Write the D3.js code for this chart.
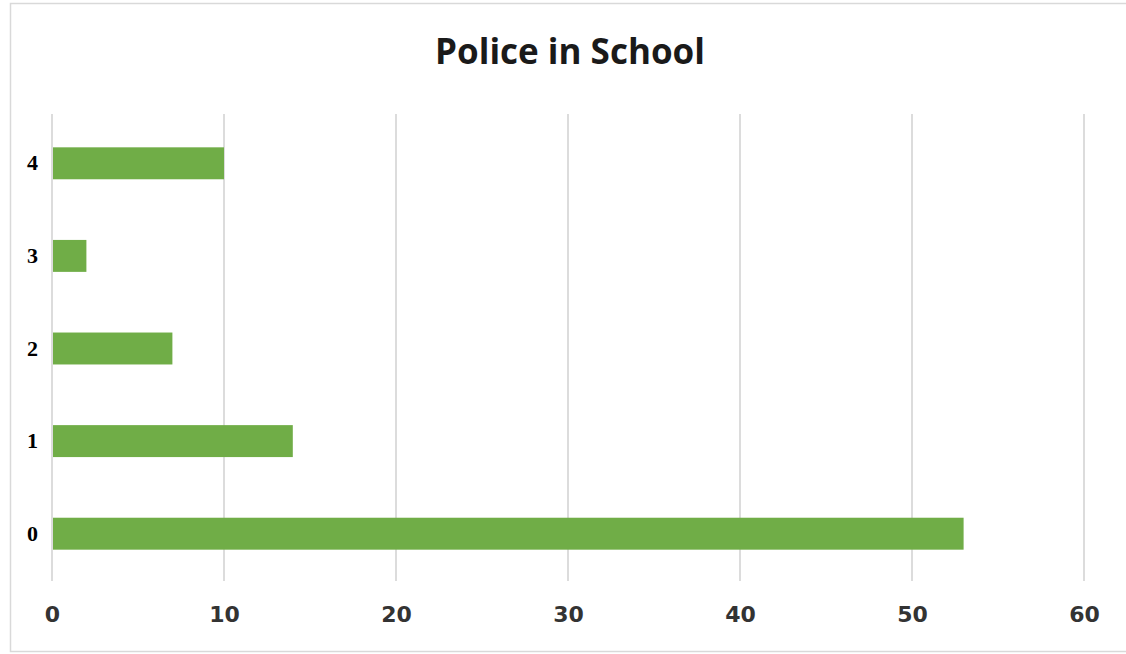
<!DOCTYPE html>
<html>
<head>
<meta charset="utf-8">
<script src="https://cdn.jsdelivr.net/npm/d3@7"></script>
<style>
  body { margin: 0; background: #fff; }
</style>
</head>
<body>
<svg id="chart" width="1126" height="654"></svg>
<script>
// data
const categories = ["4", "3", "2", "1", "0"];
const values = [10, 2, 7, 14, 53];
const xTicks = [0, 10, 20, 30, 40, 50, 60];
const title = "Police in School";

const svg = d3.select("#chart");

// outer frame (right side runs off the picture)
svg.append("rect")
    .attr("x", 10.5).attr("y", 3.5)
    .attr("width", 1200).attr("height", 648)
    .attr("fill", "#fff")
    .attr("stroke", "#d9d9d9")
    .attr("stroke-width", 1.5);

const x = d3.scaleLinear().domain([0, 60]).range([52, 1084]);
const y = d3.scaleBand().domain(categories).range([117, 580])
    .paddingInner(0.655).paddingOuter(0.3275);

// gridlines
svg.append("g")
    .selectAll("line")
    .data(xTicks)
    .join("line")
    .attr("x1", d => x(d)).attr("x2", d => x(d))
    .attr("y1", 114).attr("y2", 581)
    .attr("stroke", "#d0d0d0")
    .attr("stroke-width", 1.5);

// bars
svg.append("g")
    .selectAll("rect")
    .data(values)
    .join("rect")
    .attr("x", x(0) + 1)
    .attr("y", (d, i) => y(categories[i]))
    .attr("width", d => x(d) - x(0) - 1)
    .attr("height", y.bandwidth())
    .attr("fill", "#70ad47");

// x axis labels
const xAxis = d3.axisBottom(x).tickValues(xTicks).tickSize(0).tickPadding(0);
svg.append("g")
    .attr("transform", "translate(0, 606)")
    .call(xAxis)
    .call(g => g.select(".domain").remove())
    .selectAll("text")
    .attr("font-family", "DejaVu Sans")
    .attr("font-weight", "bold")
    .attr("font-size", 22)
    .attr("fill", "#333");

// y axis labels
const yAxis = d3.axisLeft(y).tickSize(0).tickPadding(14);
svg.append("g")
    .attr("transform", `translate(${x(0)}, 0)`)
    .call(yAxis)
    .call(g => g.select(".domain").remove())
    .selectAll("text")
    .attr("font-family", "Liberation Serif")
    .attr("font-weight", "bold")
    .attr("font-size", 22)
    .attr("fill", "#000");

// title
svg.append("text")
    .attr("x", 570).attr("y", 64)
    .attr("text-anchor", "middle")
    .attr("font-family", "Open Sans")
    .attr("font-weight", "bold")
    .attr("font-size", 35)
    .attr("fill", "#1a1a1a")
    .text(title);
</script>
</body>
</html>
